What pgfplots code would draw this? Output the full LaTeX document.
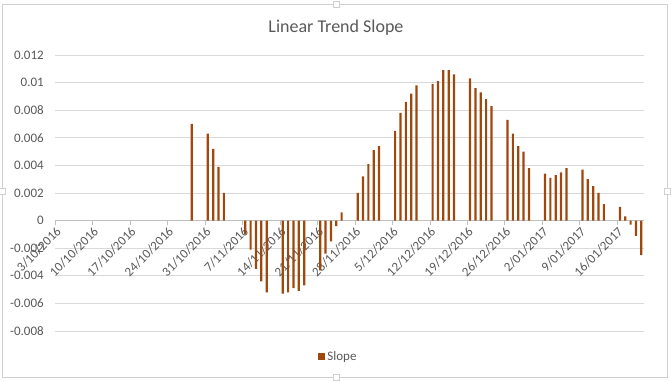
\documentclass[border=0pt]{standalone}
\usepackage{fontspec}
\setmainfont{Carlito}
\usepackage{pgfplots}
\pgfplotsset{compat=1.18}
\definecolor{barc}{HTML}{9E480E}
\definecolor{txt}{HTML}{595959}
\definecolor{gridc}{HTML}{D9D9D9}
\definecolor{axc}{HTML}{BFBFBF}
\definecolor{framec}{HTML}{D0D0D0}
\pgfplotstableread{
d v
25.5 0.0070
28.5 0.0063
29.5 0.0052
30.5 0.0039
31.5 0.0020
35.5 -0.0010
36.5 -0.0021
37.5 -0.0035
38.5 -0.0044
39.5 -0.0052
42.5 -0.0053
43.5 -0.0052
44.5 -0.0049
45.5 -0.0051
46.5 -0.0047
49.5 -0.0036
50.5 -0.0024
51.5 -0.0015
52.5 -0.0004
53.5 0.0006
56.5 0.0020
57.5 0.0032
58.5 0.0041
59.5 0.0051
60.5 0.0054
63.5 0.0065
64.5 0.0078
65.5 0.0086
66.5 0.0092
67.5 0.0098
70.5 0.0099
71.5 0.0101
72.5 0.0109
73.5 0.0109
74.5 0.0106
77.5 0.0103
78.5 0.0096
79.5 0.0093
80.5 0.0088
81.5 0.0083
84.5 0.0073
85.5 0.0063
86.5 0.0054
87.5 0.0050
88.5 0.0038
91.5 0.0034
92.5 0.0031
93.5 0.0033
94.5 0.0035
95.5 0.0038
98.5 0.0037
99.5 0.0030
100.5 0.0025
101.5 0.0020
102.5 0.0012
105.5 0.0010
106.5 0.0003
107.5 -0.0003
108.5 -0.0011
109.5 -0.0025
}\slope
\begin{document}
\begin{tikzpicture}[x=1pt,y=1pt]
\useasboundingbox (0,0) rectangle (671,382);
\draw[framec, line width=0.8pt] (2.5,4.5) rectangle (667.5,377.5);
\foreach \p in {(336,377.5),(336,4.5),(2.5,191),(667.5,191)}{
  \filldraw[fill=white, draw=framec, line width=0.6pt] \p ++(-3,-3) rectangle ++(6,6);
}
\node[text=txt, font=\fontsize{18}{20}\selectfont] at (336,354) {Linear Trend Slope};
\begin{axis}[
  at={(55.3pt,51pt)}, anchor=south west,
  scale only axis, width=588.7pt, height=276pt,
  xmin=0, xmax=110, ymin=-0.008, ymax=0.012,
  axis x line=middle, axis y line=left,
  y axis line style={draw=none},
  x axis line style={draw=axc, line width=0.75pt, -},
  hide obscured x ticks=false,
  xtick={0,7,14,21,28,35,42,49,56,63,70,77,84,91,98,105},
  xticklabels={3/10/2016,10/10/2016,17/10/2016,24/10/2016,31/10/2016,7/11/2016,14/11/2016,21/11/2016,28/11/2016,5/12/2016,12/12/2016,19/12/2016,26/12/2016,2/01/2017,9/01/2017,16/01/2017},
  ytick={-0.008,-0.006,-0.004,-0.002,0,0.002,0.004,0.006,0.008,0.01,0.012},
  yticklabels={-0.008,-0.006,-0.004,-0.002,0,0.002,0.004,0.006,0.008,0.01,0.012},
  ymajorgrids, grid style={draw=gridc, line width=0.75pt},
  tick align=outside, major tick length=4pt,
  xtick style={draw=axc, line width=0.75pt},
  ytick style={draw=none},
  x tick label style={rotate=45, anchor=north east, text=txt, font=\fontsize{13}{15}\selectfont, inner sep=1pt},
  y tick label style={text=txt, font=\fontsize{13}{15}\selectfont, xshift=-4pt},
  scaled y ticks=false,
  ybar, bar width=2.2pt,
  legend style={at={(0.481,-0.093)}, anchor=center, draw=none, fill=none, font=\fontsize{13}{15}\selectfont, text=txt},
  legend image code/.code={\fill[barc] (0pt,-3.5pt) rectangle (7pt,3.5pt);},
]
\addplot[fill=barc, draw=none, bar shift=0pt] table[x=d, y=v] {\slope};
\addlegendentry{Slope}
\end{axis}
\end{tikzpicture}
\end{document}
